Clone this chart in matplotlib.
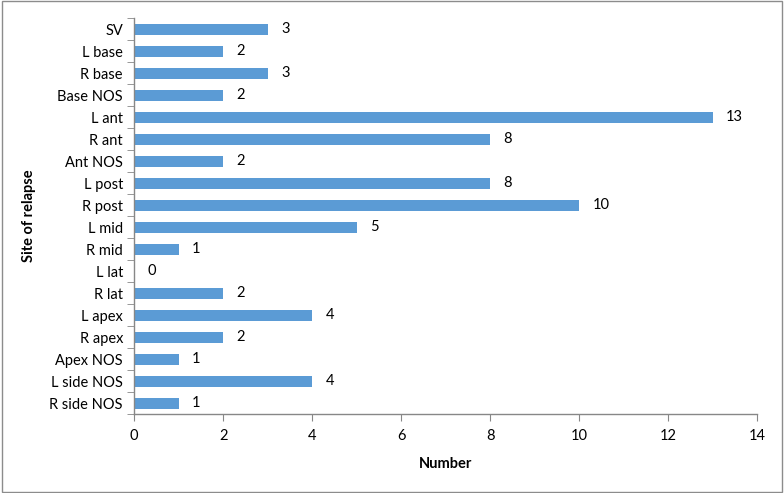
import matplotlib
matplotlib.use("Agg")
import matplotlib.pyplot as plt
from matplotlib.patches import Rectangle

categories = ["SV", "L base", "R base", "Base NOS", "L ant", "R ant", "Ant NOS",
              "L post", "R post", "L mid", "R mid", "L lat", "R lat", "L apex",
              "R apex", "Apex NOS", "L side NOS", "R side NOS"]
values = [3, 2, 3, 2, 13, 8, 2, 8, 10, 5, 1, 0, 2, 4, 2, 1, 4, 1]
xticks = [0, 2, 4, 6, 8, 10, 12, 14]

plt.rcParams['font.family'] = ['Lato', 'DejaVu Sans']

fig = plt.figure(figsize=(7.84, 4.93), dpi=100)
ax = fig.add_axes([0.171, 0.160, 0.795, 0.803])

ypos = list(range(len(categories)))
ax.barh(ypos, values, height=0.5, color="#5B9BD5")
for y, v in zip(ypos, values):
    ax.text(v + 0.3, y, str(v), va="center", ha="left", fontsize=10.5, color="black")

ax.set_ylim(len(categories) - 0.5, -0.5)
ax.set_yticks(ypos)
ax.set_yticklabels(categories, fontsize=10.5)
ax.set_xlim(0, 14)
ax.set_xticks(xticks)
ax.set_xticklabels([str(t) for t in xticks], fontsize=10.5)

# tick marks between categories like Excel
ax.set_yticks([i - 0.5 for i in range(len(categories) + 1)], minor=True)
ax.tick_params(axis="y", which="major", length=0, pad=8)
ax.tick_params(axis="y", which="minor", length=5, color="#878787")
ax.tick_params(axis="x", which="major", length=5, color="#878787", pad=6)

for s in ["top", "right"]:
    ax.spines[s].set_visible(False)
for s in ["left", "bottom"]:
    ax.spines[s].set_color("#878787")
    ax.spines[s].set_linewidth(1)

ax.set_xlabel("Number", fontsize=10.5, fontweight="bold", labelpad=10)
ax.set_ylabel("Site of relapse", fontsize=10.5, fontweight="bold", labelpad=10)

fig.patches.append(Rectangle((0.002, 0.003), 0.996, 0.994, transform=fig.transFigure,
                             fill=False, edgecolor="#8c8c8c", linewidth=1))

fig.savefig("out.png", dpi=100)
